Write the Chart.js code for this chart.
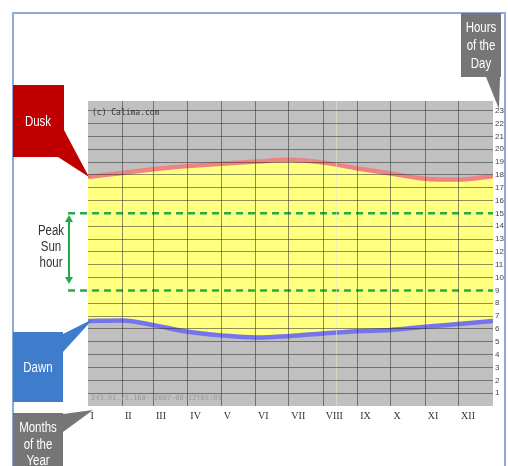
<!DOCTYPE html>
<html>
<head>
<meta charset="utf-8">
<script src="https://cdn.jsdelivr.net/npm/chart.js@4.4.1/dist/chart.umd.min.js"></script>
<style>
html,body{margin:0;padding:0;background:#fff;}
#c{display:block;}
</style>
</head>
<body>
<canvas id="c" width="508" height="466"></canvas>
<script>
// ---- data ----
const monthLabels = ['I','II','III','IV','V','VI','VII','VIII','IX','X','XI','XII'];
const monthStartDays = [0,31,59,90,120,151,181,212,243,273,304,334];
const sampleDays = [0,31,59,90,120,151,181,212,243,273,304,334,365];
const dawnHours = [6.62,6.65,6.3,5.78,5.5,5.33,5.44,5.65,5.83,5.92,6.17,6.38,6.61];
const duskHours = [17.84,18.15,18.44,18.68,18.87,19.03,19.17,18.95,18.5,18.1,17.7,17.63,17.9];
const peakStartHour = 9;
const peakEndHour = 15;
const peakLineDays = [-18,365];
const hourTickLabels = [1,2,3,4,5,6,7,8,9,10,11,12,13,14,15,16,17,18,19,20,21,22,23];

const dawnPts = sampleDays.map((d,i)=>({x:d,y:dawnHours[i]}));
const duskPts = sampleDays.map((d,i)=>({x:d,y:duskHours[i]}));
const peakLo = peakLineDays.map(d=>({x:d,y:peakStartHour}));
const peakHi = peakLineDays.map(d=>({x:d,y:peakEndHour}));

const SANS = "'Liberation Sans', Arial, sans-serif";

function narrowText(ctx, t, cx, cy, size, color){
  ctx.save();
  ctx.fillStyle = color;
  ctx.font = size + 'px ' + SANS;
  ctx.textAlign = 'center';
  ctx.textBaseline = 'middle';
  ctx.translate(cx, cy);
  ctx.scale(0.82, 1);
  ctx.fillText(t, 0, 0);
  ctx.restore();
}

function callout(ctx, box, tri, color, lines, lineYs, cx){
  ctx.save();
  ctx.fillStyle = color;
  ctx.fillRect(box[0], box[1], box[2], box[3]);
  ctx.beginPath();
  ctx.moveTo(tri[0][0], tri[0][1]);
  ctx.lineTo(tri[1][0], tri[1][1]);
  ctx.lineTo(tri[2][0], tri[2][1]);
  ctx.closePath();
  ctx.fill();
  ctx.restore();
  lines.forEach((t,i)=>narrowText(ctx, t, cx, lineYs[i], 14, '#fff'));
}

const decor = {
  id: 'decor',
  beforeDraw(chart){
    const {ctx, chartArea:a} = chart;
    ctx.save();
    ctx.fillStyle = '#fff';
    ctx.fillRect(0,0,chart.width,chart.height);
    // frame
    ctx.strokeStyle = '#8eaad8';
    ctx.lineWidth = 2;
    ctx.beginPath();
    ctx.moveTo(13,466); ctx.lineTo(13,13); ctx.lineTo(505,13); ctx.lineTo(505,466);
    ctx.stroke();
    // plot background
    ctx.fillStyle = '#c0c0c0';
    ctx.fillRect(a.left, a.top, a.right-a.left, a.bottom-a.top);
    ctx.restore();
  },
  afterDraw(chart){
    const {ctx, chartArea:a} = chart;
    ctx.save();
    // watermark texts
    ctx.fillStyle = '#333';
    ctx.font = "8px 'DejaVu Sans Mono', monospace";
    ctx.textBaseline = 'middle';
    ctx.fillText('(c) Calima.com', a.left+4, a.top+12);
    ctx.fillStyle = '#9a9a9a';
    ctx.font = "7px 'DejaVu Sans Mono', monospace";
    ctx.fillText('243.91.71.168- 2007-08-12T05:05', a.left+3, a.bottom-8);
    // peak sun hour bracket arrow
    ctx.strokeStyle = '#22aa4c';
    ctx.fillStyle = '#22aa4c';
    ctx.lineWidth = 2;
    const ax = 69, y1 = 215, y2 = 284;
    ctx.beginPath(); ctx.moveTo(ax,y1+4); ctx.lineTo(ax,y2-4); ctx.stroke();
    ctx.beginPath(); ctx.moveTo(ax,y1); ctx.lineTo(ax-4,y1+7); ctx.lineTo(ax+4,y1+7); ctx.closePath(); ctx.fill();
    ctx.beginPath(); ctx.moveTo(ax,y2); ctx.lineTo(ax-4,y2-7); ctx.lineTo(ax+4,y2-7); ctx.closePath(); ctx.fill();
    ctx.restore();
    narrowText(ctx, 'Peak', 51, 231, 14, '#333');
    narrowText(ctx, 'Sun', 51, 247, 14, '#333');
    narrowText(ctx, 'hour', 51, 263, 14, '#333');
    // callouts
    callout(ctx, [13,85,51,72], [[64,130],[89,177],[58,157]], '#c00000', ['Dusk'], [122], 38);
    callout(ctx, [13,332,50,70], [[63,334],[93,319],[63,352]], '#3f7ccc', ['Dawn'], [368], 38);
    callout(ctx, [13,413,50,53], [[63,414],[93,410],[63,432]], '#767676', ['Months','of the','Year'], [428,445,461], 38);
    callout(ctx, [461,13,40,64], [[486,77],[499,109],[500,77]], '#767676', ['Hours','of the','Day'], [28,46,64], 481);
  }
};

const gridCol = 'rgba(50,50,50,0.55)';

new Chart(document.getElementById('c'), {
  type: 'line',
  data: {
    datasets: [
      { label:'Dawn', data: dawnPts, borderColor:'#7474ee', borderWidth:4.5, pointRadius:0,
        cubicInterpolationMode:'monotone', fill:false, order:2 },
      { label:'Dusk', data: duskPts, borderColor:'#f08282', borderWidth:4.5, pointRadius:0,
        cubicInterpolationMode:'monotone', fill:'-1', backgroundColor:'#ffff80', order:2 },
      { label:'Peak start', data: peakLo, borderColor:'#22aa4c', borderWidth:2.5, borderDash:[7,5],
        pointRadius:0, fill:false, clip:false, order:1 },
      { label:'Peak end', data: peakHi, borderColor:'#22aa4c', borderWidth:2.5, borderDash:[7,5],
        pointRadius:0, fill:false, clip:false, order:1 }
    ]
  },
  options: {
    responsive:false,
    animation:false,
    devicePixelRatio:1,
    layout:{ padding:{ left:88, top:101, right:0, bottom:0 } },
    plugins:{ legend:{display:false}, tooltip:{enabled:false} },
    scales:{
      x:{
        type:'linear', min:0, max:365,
        afterBuildTicks(scale){
          scale.ticks = monthStartDays.map(v=>({value:v})).concat([{value:224},{value:365}]);
        },
        afterFit(scale){ scale.height = 60; },
        border:{display:false},
        grid:{
          z:1,
          drawTicks:false,
          color(ctx){
            const v = ctx.tick && ctx.tick.value;
            if (v === 0 || v === 365) return 'rgba(0,0,0,0)';
            if (v === 224) return 'rgba(230,230,200,0.6)';
            return gridCol;
          },
          lineWidth:1
        },
        ticks:{
          autoSkip:false, maxRotation:0, minRotation:0, align:'start', padding:4,
          color:'#333',
          font:{ family:"'Liberation Serif', serif", size:10 },
          callback(v){
            const i = monthStartDays.indexOf(v);
            return i >= 0 ? ' ' + monthLabels[i] : '';
          }
        }
      },
      y:{
        type:'linear', position:'right', min:0, max:23.75,
        afterBuildTicks(scale){
          scale.ticks = [0].concat(hourTickLabels).map(v=>({value:v}));
        },
        afterFit(scale){ scale.width = 15; },
        border:{display:false},
        grid:{
          z:1,
          drawTicks:false,
          color(ctx){
            const v = ctx.tick && ctx.tick.value;
            if (v === 0 || v === peakStartHour || v === peakEndHour) return 'rgba(0,0,0,0)';
            return gridCol;
          },
          lineWidth:1
        },
        ticks:{
          padding:2, color:'#444',
          font:{ family:"'Liberation Sans', sans-serif", size:8 },
          callback(v){ return hourTickLabels.includes(v) ? String(v) : ''; }
        }
      }
    }
  },
  plugins:[decor]
});
</script>
</body>
</html>
